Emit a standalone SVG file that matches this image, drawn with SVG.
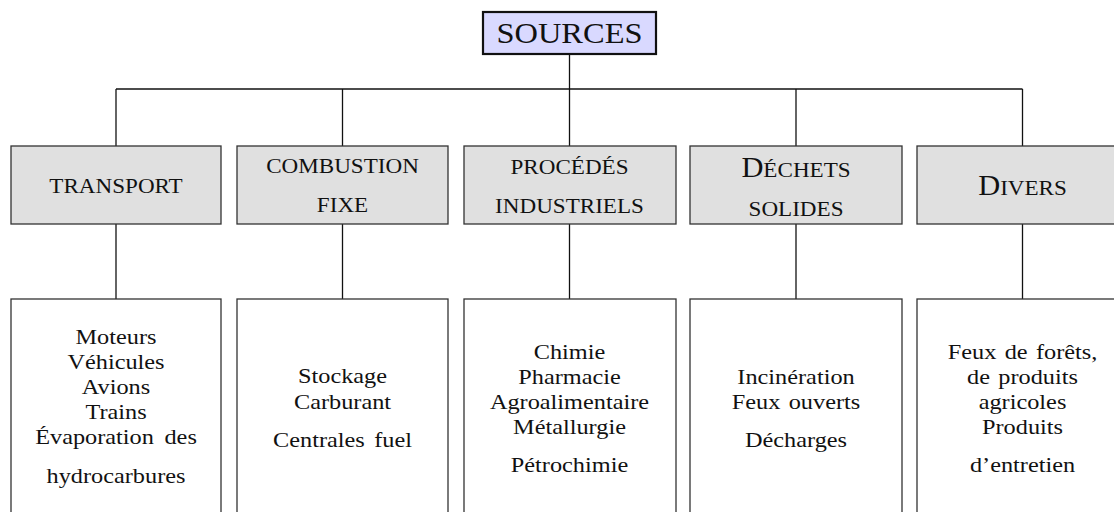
<svg xmlns="http://www.w3.org/2000/svg" width="1114" height="512" viewBox="0 0 1114 512">
<style>
  text { font-family: "Liberation Serif", "Times New Roman", serif; fill: #111; text-anchor: middle; }
  .src { font-size: 29px; }
  .hd { font-size: 22px; }
  .big { font-size: 29px; }
  .bd { font-size: 21.5px; }
  .hbox { fill: #e0e0e0; stroke: #333; stroke-width: 1.3; }
  .bbox { fill: #ffffff; stroke: #333; stroke-width: 1.3; }
  .conn { stroke: #111; stroke-width: 1.3; fill: none; }
</style>
<rect width="1114" height="512" fill="#ffffff"/>
<g id="connectors">
  <line class="conn" x1="569.5" y1="54" x2="569.5" y2="89"/>
  <line class="conn" x1="116" y1="89" x2="1022.5" y2="89"/>
  <line class="conn" x1="116" y1="89" x2="116" y2="146"/>
  <line class="conn" x1="342.5" y1="89" x2="342.5" y2="146"/>
  <line class="conn" x1="569.5" y1="89" x2="569.5" y2="146"/>
  <line class="conn" x1="796" y1="89" x2="796" y2="146"/>
  <line class="conn" x1="1022.5" y1="89" x2="1022.5" y2="146"/>
  <line class="conn" x1="116" y1="224" x2="116" y2="299"/>
  <line class="conn" x1="342.5" y1="224" x2="342.5" y2="299"/>
  <line class="conn" x1="569.5" y1="224" x2="569.5" y2="299"/>
  <line class="conn" x1="796" y1="224" x2="796" y2="299"/>
  <line class="conn" x1="1022.5" y1="224" x2="1022.5" y2="299"/>
</g>
<g id="sources">
  <rect x="483" y="12" width="173" height="42" fill="#d9d9ff" stroke="#111" stroke-width="2.2"/>
  <g transform="translate(569.5,0) scale(1.12,1)"><text class="src" x="0" y="43">SOURCES</text></g>
</g>
<g id="h-transport">
  <rect class="hbox" x="11" y="146" width="210" height="78"/>
  <g transform="translate(116,0) scale(1.05,1)"><text class="hd" x="0" y="193">TRANSPORT</text></g>
</g>
<g id="h-combustion">
  <rect class="hbox" x="237" y="146" width="211" height="78"/>
  <g transform="translate(342.5,0) scale(1.05,1)"><text class="hd" x="0" y="173">COMBUSTION</text><text class="hd" x="0" y="212">FIXE</text></g>
</g>
<g id="h-procedes">
  <rect class="hbox" x="464" y="146" width="212" height="78"/>
  <g transform="translate(569.5,0) scale(1.05,1)"><text class="hd" x="0" y="174">PROCÉDÉS</text><text class="hd" x="0" y="213">INDUSTRIELS</text></g>
</g>
<g id="h-dechets">
  <rect class="hbox" x="690" y="146" width="212" height="78"/>
  <g transform="translate(796,0) scale(1.05,1)"><text class="hd" x="0" y="177"><tspan class="big">D</tspan>ÉCHETS</text><text class="hd" x="0" y="216">SOLIDES</text></g>
</g>
<g id="h-divers">
  <rect class="hbox" x="917" y="146" width="212" height="78"/>
  <g transform="translate(1022.5,0) scale(1.05,1)"><text class="hd" x="0" y="195"><tspan class="big">D</tspan>IVERS</text></g>
</g>
<g id="b-transport">
  <rect class="bbox" x="11" y="299" width="210" height="230"/>
  <g transform="translate(116,0) scale(1.13,1)">
    <text class="bd" x="0" y="344">Moteurs</text>
    <text class="bd" x="0" y="369">Véhicules</text>
    <text class="bd" x="0" y="394">Avions</text>
    <text class="bd" x="0" y="419">Trains</text>
    <text class="bd" x="0" y="444" word-spacing="4">Évaporation des</text>
    <text class="bd" x="0" y="483">hydrocarbures</text>
  </g>
</g>
<g id="b-combustion">
  <rect class="bbox" x="237" y="299" width="211" height="230"/>
  <g transform="translate(342.5,0) scale(1.13,1)">
    <text class="bd" x="0" y="383">Stockage</text>
    <text class="bd" x="0" y="409">Carburant</text>
    <text class="bd" x="0" y="447" word-spacing="3">Centrales fuel</text>
  </g>
</g>
<g id="b-procedes">
  <rect class="bbox" x="464" y="299" width="212" height="230"/>
  <g transform="translate(569.5,0) scale(1.13,1)">
    <text class="bd" x="0" y="359">Chimie</text>
    <text class="bd" x="0" y="384">Pharmacie</text>
    <text class="bd" x="0" y="409">Agroalimentaire</text>
    <text class="bd" x="0" y="434">Métallurgie</text>
    <text class="bd" x="0" y="472">Pétrochimie</text>
  </g>
</g>
<g id="b-dechets">
  <rect class="bbox" x="690" y="299" width="212" height="230"/>
  <g transform="translate(796,0) scale(1.13,1)">
    <text class="bd" x="0" y="384">Incinération</text>
    <text class="bd" x="0" y="409" word-spacing="2">Feux ouverts</text>
    <text class="bd" x="0" y="447">Décharges</text>
  </g>
</g>
<g id="b-divers">
  <rect class="bbox" x="917" y="299" width="212" height="230"/>
  <g transform="translate(1022.5,0) scale(1.13,1)">
    <text class="bd" x="0" y="359" word-spacing="2">Feux de forêts,</text>
    <text class="bd" x="0" y="384" word-spacing="2">de produits</text>
    <text class="bd" x="0" y="409">agricoles</text>
    <text class="bd" x="0" y="434">Produits</text>
    <text class="bd" x="0" y="472">d’entretien</text>
  </g>
</g>
</svg>
